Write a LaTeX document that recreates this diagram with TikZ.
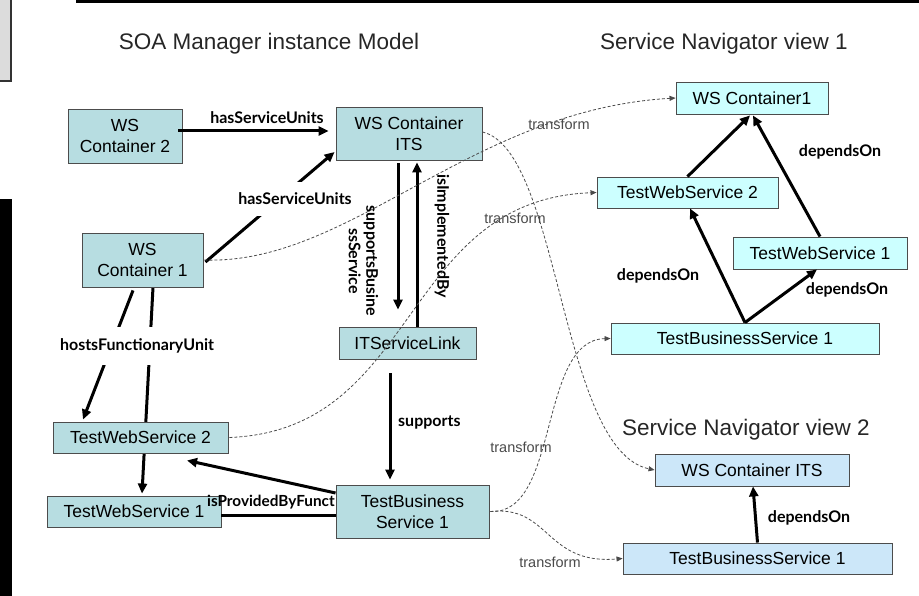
\documentclass[tikz,border=0pt]{standalone}
\usepackage{fontspec}
\setmainfont{Liberation Sans}
\newfontfamily\relfont{Lato}
\usetikzlibrary{arrows.meta,calc,backgrounds}

\definecolor{instfill}{HTML}{B7DDE1}
\definecolor{viewone}{HTML}{CCFFFF}
\definecolor{viewtwo}{HTML}{CCE7F9}
\definecolor{edgegray}{HTML}{4A4A4A}
\definecolor{panelgray}{HTML}{DCDCDC}

\tikzset{
  box/.style={draw=black!70, line width=0.9pt, inner sep=0pt, align=center,
    font=\fontsize{17.5}{20.5}\selectfont},
  inst/.style={box, fill=instfill},
  vone/.style={box, fill=viewone},
  vtwo/.style={box, fill=viewtwo},
  rel/.style={line width=3pt, -{Triangle[length=10pt,width=9pt]}},
  relplain/.style={line width=3pt},
  rellabel/.style={font=\relfont\bfseries\fontsize{16}{17.5}\selectfont, inner sep=1pt},
  gaplabel/.style={rellabel, fill=white, inner xsep=2pt},
  transform/.style={draw=edgegray, line width=0.8pt, dash pattern=on 3pt off 2pt,
    -{Triangle[length=6pt,width=5pt]}},
  tflabel/.style={text=edgegray, font=\fontsize{14.5}{16}\selectfont, inner sep=0pt},
  title/.style={text=black!85, font=\fontsize{22.5}{26}\selectfont, inner sep=0pt}
}

\begin{document}
\begin{tikzpicture}[x=1pt,y=-1pt]
\useasboundingbox (0,0) rectangle (919,596);

% frame fragments along the edges
\fill[panelgray] (0,0) rectangle (10,80);
\draw[black!80, line width=2pt] (11,0) -- (11,81) -- (0,81);
\fill[black] (76,0) rectangle (919,3);
\fill[black] (0,199) rectangle (12,596);

% headings
\node[title] (t0) at (269,44) {SOA Manager instance Model};
\node[title] (t1) at (724,44) {Service Navigator view 1};
\node[title] (t2) at (746,430) {Service Navigator view 2};

% instance model
\node[inst, minimum width=114pt, minimum height=54pt] (wc2) at (125,136) {WS\\Container 2};
\node[inst, minimum width=146pt, minimum height=53pt] (its) at (409,133.5) {WS Container\\ITS};
\node[inst, minimum width=121pt, minimum height=54pt] (wc1) at (142.5,260) {WS\\Container 1};
\node[inst, minimum width=137pt, minimum height=32pt] (itl) at (407.5,343) {ITServiceLink};
\node[inst, minimum width=175pt, minimum height=31pt] (tws2) at (140.5,437.5) {TestWebService 2};
\node[inst, minimum width=174pt, minimum height=31pt] (tws1) at (134,511.5) {TestWebService 1};

% navigator view 1
\node[vone, minimum width=152pt, minimum height=32pt] (v1wc) at (752,98) {WS Container1};
\node[vone, minimum width=181pt, minimum height=31pt] (v1t2) at (687.5,192.5) {TestWebService 2};
\node[vone, minimum width=174pt, minimum height=32pt] (v1t1) at (820,253) {TestWebService 1};
\node[vone, minimum width=268pt, minimum height=31pt] (v1bs) at (745,338.5) {TestBusinessService 1};

% navigator view 2
\node[vtwo, minimum width=194pt, minimum height=32pt] (v2wc) at (752,470) {WS Container ITS};
\node[vtwo, minimum width=269pt, minimum height=31pt] (v2bs) at (757.5,558.5) {TestBusinessService 1};

% relations of the instance model
\draw[rel] ($(wc2.east)+(-4,-5)$) -- ($(its.west)+(-7,-2.5)$);
\node[rellabel] (l1) at (267,118) {hasServiceUnits};

\draw[rel] ($(wc1.east)+(2,2)$) -- ($(its.west)+(-1,18.5)$);
\node[gaplabel, inner ysep=11pt] (l2) at (295,199) {hasServiceUnits};

\draw[rel] ($(its.south)+(-11,3)$) -- ($(itl.north)+(-9.5,-17)$);
\draw[rel] ($(itl.north)+(9.5,0)$) -- ($(its.south)+(8,2)$);
\node[rellabel, rotate=-90, align=center] (l3) at (363.5,261) {supportsBusine\\ssService};
\node[rellabel, rotate=-90] (l4) at (442,236) {isImplementedBy};

\draw[rel] ($(wc1.south)+(-9.5,3)$) -- ($(tws2.north)+(-57.5,-2)$);
\begin{pgfonlayer}{background}
  \draw[rel] ($(wc1.south)+(10.5,0)$) -- ($(tws1.north)+(8,-2)$);
\end{pgfonlayer}
\node[gaplabel, inner ysep=12pt] (l5) at (137,346) {hostsFunctionaryUnit};

% lower part of the instance model
\node[rellabel, anchor=west, font=\relfont\bfseries\fontsize{15.3}{17}\selectfont]
  (l7) at (206,502) {isProvidedByFunct};
\node[inst, minimum width=153pt, minimum height=53pt] (tbs) at (412.5,511.5) {TestBusiness\\Service 1};

\draw[rel] ($(itl.south)+(-17.5,14)$) -- ($(tbs.north)+(-22.5,-5)$);
\node[rellabel, anchor=west] (l6) at (397,422) {supports};

\draw[rel] ($(tbs.west)+(0,-18.5)$) -- ($(tws2.south)+(46.5,7)$);
\draw[relplain] ($(tbs.west)+(0,3.5)$) -- ($(tws1.east)+(0,3.5)$);

% navigator view 1 relations
\draw[rel] (v1t2.north) -- ($(v1wc.south)+(-2,1)$);
\draw[rel] (v1t1.north) -- ($(v1wc.south)+(1,1)$);
\node[rellabel] (l8) at (840,152) {dependsOn};
\draw[rel] (v1bs.north) -- ($(v1t2.south)+(2.5,0)$);
\node[rellabel] (l9) at (658,276) {dependsOn};
\draw[rel] (v1bs.north) -- ($(v1t1.south)+(-3,0)$);
\node[rellabel] (l10) at (847,290) {dependsOn};

% navigator view 2 relation
\draw[rel] (v2bs.north) -- ($(v2wc.south)+(1,0)$);
\node[rellabel] (l11) at (809,518) {dependsOn};

% transformations into the navigator views
\draw[transform] ($(wc1.east)+(1,0)$) .. controls (350,265) and (470,110) .. (v1wc.west);
\node[tflabel] (f1) at (559,124) {transform};
\draw[transform] ($(tws2.east)+(1,0)$) .. controls (420,430) and (400,200) .. (v1t2.west);
\node[tflabel] (f2) at (515,218) {transform};
\draw[transform] ($(its.east)+(0,-1.5)$) .. controls (560,150) and (560,450) .. (v2wc.west);
\draw[transform] ($(tbs.east)+(1,0)$) .. controls (560,515) and (538,340) .. (v1bs.west);
\node[tflabel] (f3) at (521,447) {transform};
\draw[transform] ($(tbs.east)+(1,0)$) .. controls (550,505) and (545,565) .. (v2bs.west);
\node[tflabel] (f4) at (550,562) {transform};

\end{tikzpicture}
\end{document}
